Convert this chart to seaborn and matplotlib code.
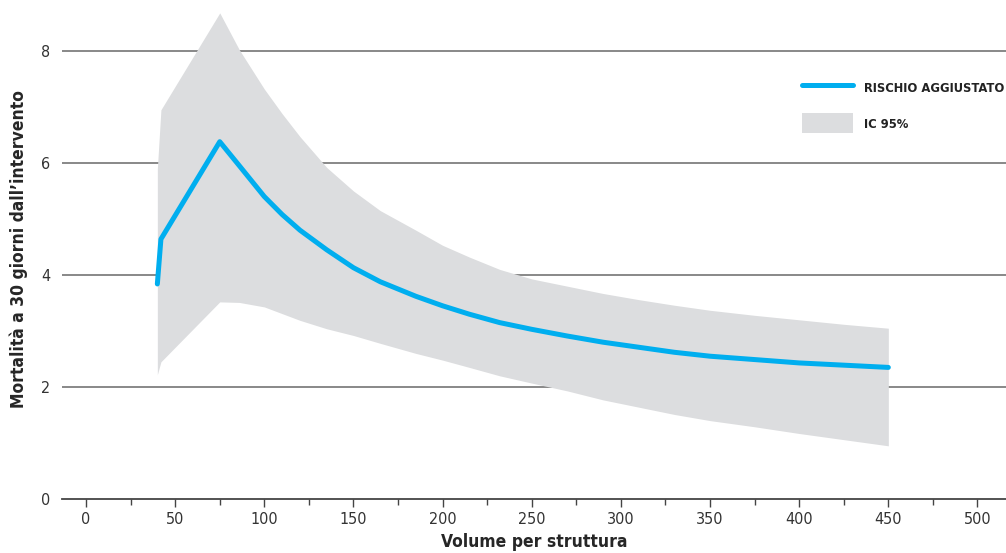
import pandas as pd
import matplotlib
matplotlib.use('Agg')
import matplotlib.pyplot as plt
import seaborn as sns
from matplotlib.lines import Line2D
from matplotlib.patches import Patch

# --- Data ---
volume = [40, 42, 75, 86, 100, 110, 120, 135, 150, 165, 185, 200, 215, 232,
          250, 270, 290, 310, 330, 350, 375, 400, 425, 450]
rischio = [3.84, 4.64, 6.38, 5.95, 5.40, 5.08, 4.80, 4.45, 4.13, 3.88, 3.62, 3.45, 3.30, 3.15,
           3.03, 2.91, 2.80, 2.71, 2.62, 2.55, 2.49, 2.43, 2.39, 2.35]
ic_upper = [5.9, 6.95, 8.68, 8.02, 7.32, 6.88, 6.47, 5.92, 5.5, 5.15, 4.8, 4.53, 4.32, 4.1,
            3.93, 3.8, 3.67, 3.56, 3.46, 3.37, 3.28, 3.2, 3.12, 3.05]
ic_lower = [2.22, 2.45, 3.52, 3.51, 3.43, 3.31, 3.19, 3.04, 2.92, 2.78, 2.6, 2.48, 2.35, 2.20,
            2.07, 1.93, 1.77, 1.64, 1.51, 1.40, 1.29, 1.17, 1.06, 0.95]

df = pd.DataFrame({'volume': volume, 'rischio': rischio,
                   'upper': ic_upper, 'lower': ic_lower})

x_ticks = [0, 50, 100, 150, 200, 250, 300, 350, 400, 450, 500]
y_ticks = [0, 2, 4, 6, 8]

sns.set_style("white")
plt.rcParams['font.family'] = ['DejaVu Sans']
plt.rcParams['font.stretch'] = 'condensed'

blue = '#00AEEF'
band = '#DCDDDF'

fig = plt.figure(figsize=(10.06, 5.53), dpi=100)
ax = fig.add_axes([0.0616, 0.0976, 0.9384, 0.9024])

# gridlines under the band
for y in y_ticks[1:]:
    ax.axhline(y, color='#7f7f7f', lw=1.3, zorder=0)

ax.fill_between(df['volume'], df['lower'], df['upper'], color=band, lw=0, zorder=1)
sns.lineplot(data=df, x='volume', y='rischio', color=blue, lw=3.6,
             solid_capstyle='round', solid_joinstyle='round', ax=ax, zorder=2)

ax.set_xlim(-13.5, 516)
ax.set_ylim(0, 8.91)
ax.set_xticks(x_ticks)
ax.set_xticks(range(25, 500, 50), minor=True)
ax.set_yticks(y_ticks)

for s in ['top', 'right', 'left']:
    ax.spines[s].set_visible(False)
ax.spines['bottom'].set_color('#444444')
ax.spines['bottom'].set_linewidth(1.3)

ax.tick_params(axis='x', which='major', bottom=True, length=6, width=1, color='#444444',
               labelsize=11.5, labelcolor='#333333', pad=3)
ax.tick_params(axis='x', which='minor', bottom=True, length=4, width=1, color='#444444')
ax.tick_params(axis='y', left=False, labelsize=11.5, labelcolor='#333333', pad=5)

ax.set_xlabel("Volume per struttura", fontsize=12.5, fontweight='bold', labelpad=5)
ax.set_ylabel("Mortalità a 30 giorni dall\u2019intervento", fontsize=12.5,
              fontweight='bold', labelpad=9)

handles = [Line2D([], [], color=blue, lw=3.6, solid_capstyle='round'),
           Patch(facecolor=band, edgecolor='none')]
leg = ax.legend(handles, ['RISCHIO AGGIUSTATO', 'IC 95%'], loc='upper left',
                bbox_to_anchor=(0.786, 0.88), bbox_transform=fig.transFigure,
                frameon=False, handlelength=3.9, handleheight=2.0,
                handletextpad=0.85, labelspacing=1.2,
                prop={'weight': 'bold', 'size': 9.3, 'stretch': 'condensed'})
for t in leg.get_texts():
    t.set_color('#222222')

fig.savefig("out.png", dpi=100)
